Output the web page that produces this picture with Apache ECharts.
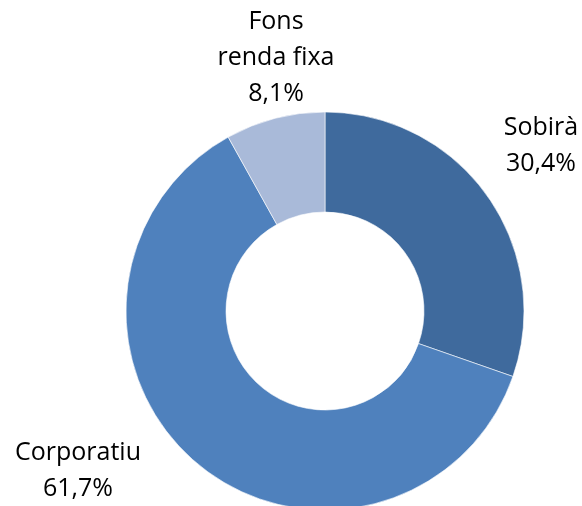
<!DOCTYPE html>
<html>
<head>
<meta charset="utf-8">
<script src="https://cdn.jsdelivr.net/npm/echarts@6/dist/echarts.min.js"></script>
<style>
    html, body { margin: 0; padding: 0; background: #fff; }
    #chart { width: 582px; height: 506px; }
</style>
</head>
<body>
<div id="chart"></div>
<script>
    // categories and shares (%)
    var categories = ['Sobirà', 'Corporatiu', 'Fons\nrenda fixa']
    var shares = [30.4, 61.7, 8.1]
    var colors = ['#3F6A9D', '#4F81BD', '#A9BAD9']

    // where each label sits (centre of text block)
    var labelSpots = [[541, 146], [78, 471], [276, 58]]

    var chart = echarts.init(document.getElementById('chart'))

    var option = {
        animation: false,
        series: [{
            type: 'pie',
            center: [325, 311],
            radius: [99, 199],
            startAngle: 90,
            clockwise: true,
            data: categories.map(function (c, i) {
                return {name: c, value: shares[i], itemStyle: {color: colors[i]}}
            }),
            itemStyle: {
                borderColor: '#ffffff',
                borderWidth: 0.6
            },
            label: {
                show: true,
                position: 'outside',
                overflow: 'none',
                edgeDistance: 0,
                fontFamily: 'Open Sans',
                fontSize: 25,
                lineHeight: 36,
                color: '#000',
                align: 'center',
                formatter: function (p) {
                    return p.name + '\n' + p.value.toFixed(1).replace('.', ',') + '%'
                }
            },
            labelLine: {show: false},
            labelLayout: function (params) {
                var s = labelSpots[params.dataIndex]
                return {x: s[0], y: s[1], align: 'center', verticalAlign: 'middle'}
            }
        }]
    }

    chart.setOption(option)
</script>
</body>
</html>
